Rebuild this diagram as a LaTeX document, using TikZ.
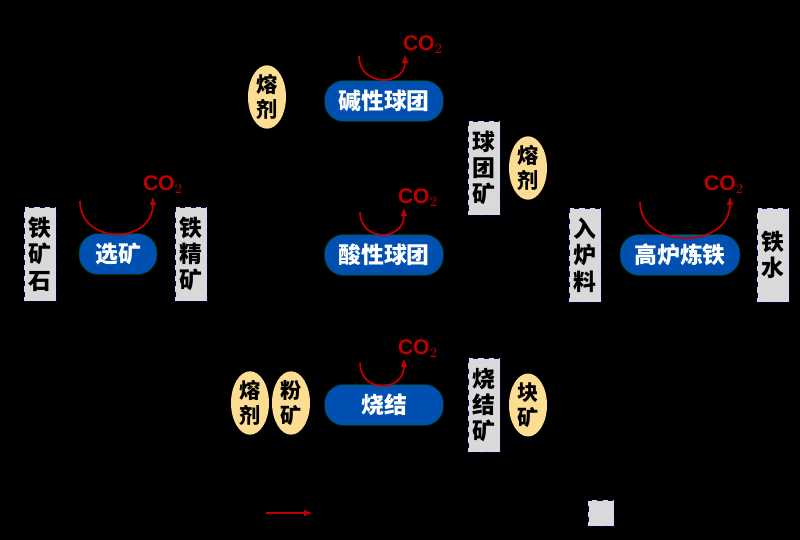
\documentclass[tikz,border=0pt]{standalone}
\usepackage{fontspec}
\setmainfont{Noto Sans CJK SC}
\newfontfamily\lat{Liberation Sans}
\begin{document}
\begin{tikzpicture}[x=0.02cm,y=-0.02cm,
 box/.style={draw=black!60!blue,dashed,fill=gray!30,minimum width=0.64cm,minimum height=1.88cm,align=center,font=\bfseries\fontsize{13}{15}\selectfont,inner sep=0pt},
 pill/.style={draw=green!20!black,fill=blue!55!cyan!70!black,rounded corners=0.38cm,minimum height=0.82cm,text=white,font=\bfseries\fontsize{13}{15}\selectfont},
 ell/.style={ellipse,draw=none,fill=yellow!40!orange!40,minimum width=0.76cm,minimum height=1cm,align=center,inner sep=0pt,font=\bfseries\fontsize{12}{14}\selectfont},
 arc/.style={draw=red!75!black,line width=1pt,-{Latex[length=5pt]}},
 co/.style={text=red!75!black,font=\lat\bfseries\fontsize{12}{14}\selectfont}]
\usetikzlibrary{shapes.geometric,arrows.meta}
\fill[black] (0,0) rectangle (800,540);
\node[box] (a) at (40,254) {铁\\矿\\石};
\node[pill,minimum width=1.56cm] (b) at (118,254) {选矿};
\node[box] (c) at (191,254) {铁\\精\\矿};
\node[pill,minimum width=2.38cm] (d) at (384,101) {碱性球团};
\node[ell] (e) at (267,97) {熔\\剂};
\node[box] (f) at (484,168) {球\\团\\矿};
\node[ell] (g) at (528,168) {熔\\剂};
\node[pill,minimum width=2.38cm] (h) at (384,255) {酸性球团};
\node[pill,minimum width=2.38cm] (i) at (384,405) {烧结};
\node[ell] (j) at (250,403) {熔\\剂};
\node[ell] (k) at (291,403) {粉\\矿};
\node[box] (l) at (484,405) {烧\\结\\矿};
\node[ell] (m) at (528,405) {块\\矿};
\node[box] (n) at (585,255) {入\\炉\\料};
\node[pill,minimum width=2.4cm] (o) at (680,255) {高炉炼铁};
\node[box] (p) at (773,255) {铁\\水};
\node[co] (c1) at (163,185) {CO$_2$};
\node[co] (c2) at (423,45) {CO$_2$};
\node[co] (c3) at (418,198) {CO$_2$};
\node[co] (c4) at (418,349) {CO$_2$};
\node[co] (c5) at (724,185) {CO$_2$};
\coordinate (s1) at (80,201); \coordinate (t1) at (153,196);
\draw[arc] (s1) .. controls (80,245) and (153,245) .. (t1);
\coordinate (s2) at (359,56); \coordinate (t2) at (405,54);
\draw[arc] (s2) .. controls (359,87) and (405,87) .. (t2);
\coordinate (s3) at (360,212); \coordinate (t3) at (404,207);
\draw[arc] (s3) .. controls (360,242) and (404,242) .. (t3);
\coordinate (s4) at (360,363); \coordinate (t4) at (404,358);
\draw[arc] (s4) .. controls (360,393) and (404,393) .. (t4);
\coordinate (s5) at (640,202); \coordinate (t5) at (730,196);
\draw[arc] (s5) .. controls (640,250) and (730,250) .. (t5);
\coordinate (la) at (266,513); \coordinate (lb) at (313,513);
\draw[arc] (la) -- (lb);
\node[draw=black!60!blue,dashed,fill=gray!30,minimum size=0.52cm,inner sep=0pt] (q) at (601,513) {};
\end{tikzpicture}
\end{document}
